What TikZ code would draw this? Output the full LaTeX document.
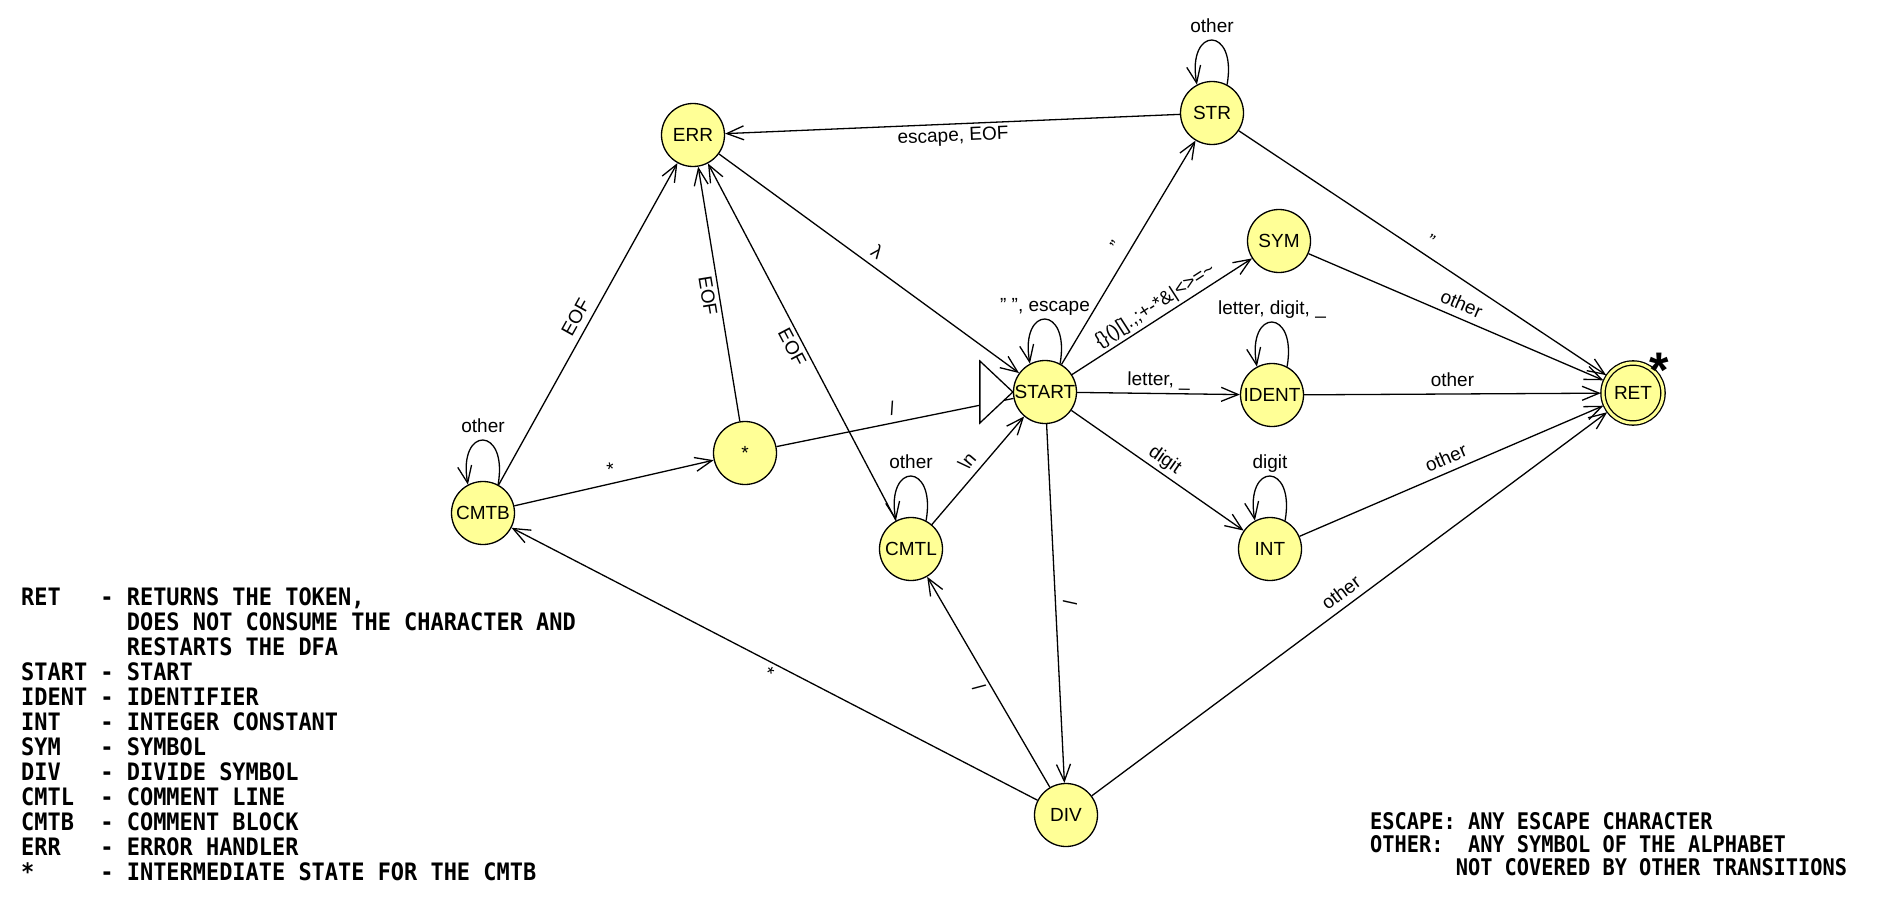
\documentclass[tikz,border=0pt]{standalone}
\usepackage{fontspec}
\setmainfont{Liberation Sans}
\newfontfamily\legendfont{DejaVu Sans Mono}[FakeStretch=0.914]
\newfontfamily\legendfontb{DejaVu Sans Mono}[FakeStretch=0.887]
\usetikzlibrary{arrows.meta}
\definecolor{stfill}{RGB}{255,255,150}
\tikzset{
  state/.style={circle, draw, line width=1.3pt, fill=stfill, minimum size=63pt, inner sep=0pt,
    font=\fontsize{19}{19}\selectfont},
  finalstate/.style={state, minimum size=60pt, double=stfill, double distance=3pt, outer sep=2.2pt},
  arr/.style={-{Straight Barb[length=17pt,width=14pt]}, line width=1.3pt},
  plainline/.style={line width=1.3pt},
  lab/.style={font=\fontsize{19}{19}\selectfont, inner sep=3pt, text height=14pt, text depth=4pt, sloped},
  legend/.style={inner sep=0pt, anchor=north west, align=left},
}
\begin{document}
\begin{tikzpicture}[x=1pt,y=1pt]
\useasboundingbox (0,0) rectangle (1893,-899);
% states
\node[state] (ERR) at (693,-135) {ERR};
\node[state] (STR) at (1212,-113) {STR};
\node[state] (SYM) at (1279,-241) {SYM};
\node[state] (START) at (1045,-392) {START};
\node[state] (IDENT) at (1272,-395) {IDENT};
\node[state] (INT) at (1270,-549) {INT};
\node[finalstate] (RET) at (1633,-393) {RET};
\node[state] (ST) at (745,-453) {*};
\node[state] (CMTB) at (483,-513) {CMTB};
\node[state] (CMTL) at (911,-549) {CMTL};
\node[state] (DIV) at (1066,-815) {DIV};
\node[anchor=base, inner sep=0pt, font=\fontsize{50}{50}\selectfont\bfseries] (note) at (1659,-387) {*};
% transitions
\draw[arr] (STR) -- node[lab,below] {escape, EOF} (ERR);
\draw[arr] (ERR) -- node[lab,above] {λ} (START);
\draw[arr] (CMTB) -- node[lab,above] {EOF} (ERR);
\draw[arr] (ST) -- node[lab,below] {EOF} (ERR);
\draw[arr] (CMTL) -- node[lab,below] {EOF} (ERR);
\draw[arr] (CMTB) -- node[lab,above] {*} (ST);
\draw[plainline] (ST) -- node[lab,above] {/} (START);
\draw[arr] (CMTL) -- node[lab,above] {\textbackslash n} (START);
\draw[arr] (START) -- node[lab,above] {/} (DIV);
\draw[arr] (DIV) -- node[lab,below] {/} (CMTL);
\draw[arr] (DIV) -- node[lab,below] {*} (CMTB);
\draw[arr] (DIV) -- node[lab,above] {other} (RET);
\draw[arr] (INT) -- node[lab,above] {other} (RET);
\draw[arr] (IDENT) -- node[lab,above] {other} (RET);
\draw[arr] (SYM) -- node[lab,above] {other} (RET);
\draw[arr] (STR) -- node[lab,above] {"} (RET);
\draw[arr] (START) -- node[lab,above] {"} (STR);
\draw[arr] (START) -- node[lab,above] {\{\}()[].,;+-*\&|<>=\textasciitilde} (SYM);
\draw[arr] (START) -- node[lab,above] {letter, \_} (IDENT);
\draw[arr] (START) -- node[lab,above] {digit} (INT);
% loops
\draw[arr] (STR.62) .. controls +(80:60) and +(100:60) .. node[lab,above] {other} (STR.118);
\draw[arr] (START.62) .. controls +(80:60) and +(100:60) .. node[lab,above] {" ", escape} (START.118);
\draw[arr] (IDENT.62) .. controls +(80:60) and +(100:60) .. node[lab,above] {letter, digit, \_} (IDENT.118);
\draw[arr] (INT.62) .. controls +(80:60) and +(100:60) .. node[lab,above] {digit} (INT.118);
\draw[arr] (CMTL.62) .. controls +(80:60) and +(100:60) .. node[lab,above] {other} (CMTL.118);
\draw[arr] (CMTB.62) .. controls +(80:60) and +(100:60) .. node[lab,above] {other} (CMTB.118);
% initial marker
\draw[line width=1.3pt, fill=white] (START.west) -- ++(-33,31) -- ++(0,-62) -- cycle;
% legends
\node[legend, font=\legendfont\bfseries\fontsize{24}{25}\selectfont] (leg1) at (21,-587.5) {RET\ \ \ -\ RETURNS THE TOKEN,\\
\hphantom{START - }DOES NOT CONSUME THE CHARACTER AND\\
\hphantom{START - }RESTARTS THE DFA\\
START - START\\
IDENT - IDENTIFIER\\
INT\ \ \ -\ INTEGER CONSTANT\\
SYM\ \ \ -\ SYMBOL\\
DIV\ \ \ -\ DIVIDE SYMBOL\\
CMTL\ \ -\ COMMENT LINE\\
CMTB\ \ -\ COMMENT BLOCK\\
ERR\ \ \ -\ ERROR HANDLER\\
*\ \ \ \ \ -\ INTERMEDIATE STATE FOR THE CMTB};
\node[legend, font=\legendfontb\bfseries\fontsize{22.9}{23.3}\selectfont] (leg2) at (1370,-812) {ESCAPE: ANY ESCAPE CHARACTER\\
OTHER:\ \ ANY SYMBOL OF THE ALPHABET\\
\hphantom{OTHER:  }NOT COVERED BY OTHER TRANSITIONS};
\end{tikzpicture}
\end{document}
